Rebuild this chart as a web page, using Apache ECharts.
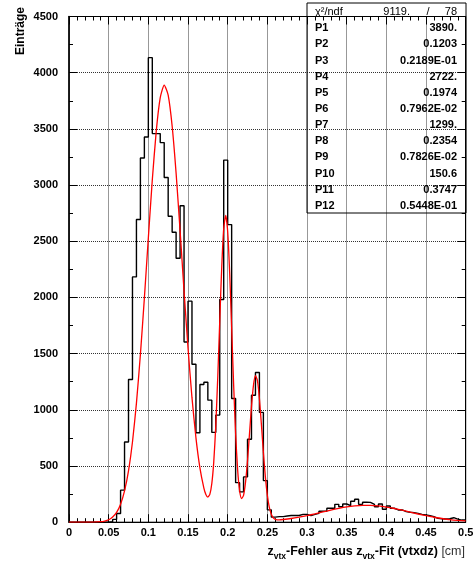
<!DOCTYPE html>
<html><head><meta charset="utf-8">
<script src="https://cdn.jsdelivr.net/npm/echarts@6/dist/echarts.min.js"></script>
<style>html,body{margin:0;padding:0;background:#fff}#c{width:474px;height:565px}</style>
</head><body><div id="c"></div>
<script>
// ---- data ----
const binStart = 0;
const binWidth = 0.005;
const counts = [
  0, 0, 0, 0, 0, 0, 0, 0, 0, 0,
  5, 25, 77, 285, 714, 1270, 2183, 2693, 3241, 3428,
  4134, 3458, 3458, 3378, 3067, 2722, 2580, 2349, 2816, 1604,
  1967, 1405, 796, 1225, 1246, 1086, 799, 953, 1982, 3222,
  2648, 1101, 352, 270, 403, 738, 1130, 1332, 977, 370,
  110, 45, 50, 50, 55, 60, 60, 60, 70, 70,
  58, 70, 79, 97, 97, 124, 124, 159, 138, 162,
  147, 186, 204, 159, 177, 176, 159, 138, 162, 115,
  144, 124, 109, 109, 94, 88, 85, 79, 70, 64,
  58, 49, 34, 31, 28, 31, 40, 28, 19, 19
];
const fitX = [0, 0.01, 0.02, 0.03, 0.04, 0.045, 0.05, 0.055, 0.06, 0.065,
  0.07, 0.075, 0.08, 0.085, 0.09, 0.095, 0.1, 0.105, 0.11, 0.115,
  0.12, 0.125, 0.13, 0.135, 0.14, 0.145, 0.15, 0.155, 0.16, 0.165,
  0.17, 0.1725, 0.175, 0.1775, 0.18, 0.1825, 0.185, 0.1875, 0.19, 0.1925,
  0.195, 0.1975, 0.2, 0.2025, 0.205, 0.2075, 0.21, 0.2125, 0.215, 0.2175,
  0.22, 0.2225, 0.225, 0.2275, 0.23, 0.2325, 0.235, 0.2375, 0.24, 0.2425,
  0.245, 0.2475, 0.25, 0.2525, 0.255, 0.2575, 0.26, 0.265, 0.27, 0.28,
  0.29, 0.3, 0.31, 0.32, 0.33, 0.34, 0.35, 0.36, 0.37, 0.38,
  0.39, 0.4, 0.41, 0.42, 0.43, 0.44, 0.45, 0.46, 0.47, 0.48,
  0.49, 0.5];
const fitY = [0, 0, 0.1, 0.8, 4.6, 10.5, 22, 46, 87, 160,
  278, 457, 714, 1060, 1493, 1994, 2530, 3047, 3482, 3778,
  3890, 3801, 3526, 3105, 2595, 2058, 1550, 1108, 751, 484,
  303, 247, 224, 248, 344, 541, 858, 1292, 1791, 2269,
  2613, 2730, 2587, 2221, 1730, 1223, 787, 471, 282, 210,
  239, 356, 547, 787, 1029, 1218, 1303, 1259, 1100, 869,
  621, 403, 239, 132, 70, 39, 26, 21, 24, 33,
  45, 59, 74, 91, 108, 123, 136, 145, 150, 150,
  145, 135, 122, 107, 90, 73, 58, 44, 33, 23,
  16, 11];
const statNames = ['P1','P2','P3','P4','P5','P6','P7','P8','P9','P10','P11','P12'];
const statValues = ['3890.','0.1203','0.2189E-01','2722.','0.1974','0.7962E-02','1299.','0.2354','0.7826E-02','150.6','0.3747','0.5448E-01'];
const chi2 = '9119.';
const ndf = '78';

// ---- build ----
const FONT = 'Liberation Sans, Arial, Helvetica, sans-serif';
const histData = counts.map((c, i) => [binStart + i * binWidth, c]);
histData.push([binStart + counts.length * binWidth, counts[counts.length - 1]]);
const fitData = fitX.map((x, i) => [x, fitY[i]]);

const chart = echarts.init(document.getElementById('c'), null, {renderer: 'canvas'});

const mkGrid = () => ({show: true, lineStyle: {color: '#333', type: 'dotted', width: 1, opacity: 1}});
const tickStyle = {color: '#000', width: 1};

const graphics = [];
// stats box
const boxX = 307, boxY = 3, boxW = 159, boxH = 210;
graphics.push({type: 'rect', shape: {x: boxX, y: boxY, width: boxW, height: boxH},
  style: {fill: 'none', stroke: '#000', lineWidth: 1}, z: 100});
const rowH = boxH / 13;
graphics.push({type: 'text', x: 315, y: boxY + rowH * 0.5 + 1, z: 101,
  style: {text: 'χ²/ndf', fontSize: 11, fontFamily: FONT, fill: '#000', textVerticalAlign: 'middle', textAlign: 'left'}});
graphics.push({type: 'text', x: 410, y: boxY + rowH * 0.5 + 1, z: 101,
  style: {text: chi2, fontSize: 11, fontFamily: FONT, fill: '#000', textVerticalAlign: 'middle', textAlign: 'right'}});
graphics.push({type: 'text', x: 428, y: boxY + rowH * 0.5 + 1, z: 101,
  style: {text: '/', fontSize: 11, fontFamily: FONT, fill: '#000', textVerticalAlign: 'middle', textAlign: 'center'}});
graphics.push({type: 'text', x: 457, y: boxY + rowH * 0.5 + 1, z: 101,
  style: {text: ndf, fontSize: 11, fontFamily: FONT, fill: '#000', textVerticalAlign: 'middle', textAlign: 'right'}});
statNames.forEach((n, i) => {
  const y = boxY + rowH * (i + 1.5) + 1;
  graphics.push({type: 'text', x: 315, y: y, z: 101,
    style: {text: n, fontSize: 11, fontWeight: 'bold', fontFamily: FONT, fill: '#000', textVerticalAlign: 'middle', textAlign: 'left'}});
  graphics.push({type: 'text', x: 457, y: y, z: 101,
    style: {text: statValues[i], fontSize: 11, fontWeight: 'bold', fontFamily: FONT, fill: '#000', textVerticalAlign: 'middle', textAlign: 'right'}});
});
// y title
graphics.push({type: 'text', x: 21, y: 31, rotation: Math.PI / 2, z: 101,
  style: {text: 'Einträge', fontSize: 12, fontWeight: 'bold', fontFamily: FONT, fill: '#000', textAlign: 'center', textVerticalAlign: 'middle'}});
// x title
graphics.push({type: 'text', x: 465, y: 545, z: 101,
  style: {
    text: '{b|z}{s|vtx}{b|-Fehler aus z}{s|vtx}{b|-Fit (vtxdz) }{n|[cm]}',
    textAlign: 'right', textVerticalAlign: 'top',
    rich: {
      b: {fontSize: 12.5, fontWeight: 'bold', fontFamily: FONT, fill: '#000', lineHeight: 14, verticalAlign: 'top'},
      s: {fontSize: 8.5, fontWeight: 'bold', fontFamily: FONT, fill: '#000', lineHeight: 9, padding: [7, 0, 0, 0], verticalAlign: 'top'},
      n: {fontSize: 12.5, fontWeight: 'normal', fontFamily: FONT, fill: '#333', lineHeight: 14, verticalAlign: 'top'}
    }
  }});

const fmtX = v => String(Math.round(v * 1000) / 1000);
const fmtY = v => (Math.round(v) % 500 === 0 ? String(Math.round(v)) : '');

chart.setOption({
  animation: false,
  backgroundColor: '#fff',
  grid: {left: 69, right: 8.3, top: 16.5, bottom: 42.8, show: true, borderColor: '#000', borderWidth: 1,
    containLabel: false, outerBoundsMode: 'none'},
  xAxis: [
    {type: 'value', min: 0, max: 0.5, interval: 0.05, position: 'bottom',
      axisLine: {show: true, onZero: false, lineStyle: {color: '#000', width: 1}},
      axisTick: {show: true, inside: true, length: 8, lineStyle: tickStyle},
      minorTick: {show: true, splitNumber: 5, length: 4, lineStyle: tickStyle},
      axisLabel: {show: true, margin: 5, fontFamily: FONT, fontWeight: 'bold', fontSize: 11, color: '#000',
        formatter: fmtX, showMinLabel: true, showMaxLabel: true, hideOverlap: false},
      splitLine: mkGrid(), minorSplitLine: {show: false}},
    {type: 'value', min: 0, max: 0.5, interval: 0.05, position: 'top',
      axisLine: {show: true, onZero: false, lineStyle: {color: '#000', width: 1}},
      axisTick: {show: true, inside: true, length: 8, lineStyle: tickStyle},
      minorTick: {show: true, splitNumber: 5, length: 4, lineStyle: tickStyle},
      axisLabel: {show: false}, splitLine: {show: false}}
  ],
  yAxis: [
    {type: 'value', min: 0, max: 4500, interval: 500, position: 'left',
      axisLine: {show: true, onZero: false, lineStyle: {color: '#000', width: 1.5}},
      axisTick: {show: true, inside: true, length: 8, lineStyle: tickStyle},
      minorTick: {show: true, splitNumber: 2, length: 4, lineStyle: tickStyle},
      axisLabel: {show: true, margin: 11, fontFamily: FONT, fontWeight: 'bold', fontSize: 11, color: '#000',
        formatter: fmtY, showMinLabel: true, showMaxLabel: true, hideOverlap: false},
      splitLine: mkGrid()},
    {type: 'value', min: 0, max: 4500, interval: 500, position: 'right',
      axisLine: {show: true, onZero: false, lineStyle: {color: '#000', width: 1}},
      axisTick: {show: true, inside: true, length: 8, lineStyle: tickStyle},
      minorTick: {show: true, splitNumber: 2, length: 4, lineStyle: tickStyle},
      axisLabel: {show: false}, splitLine: {show: false}}
  ],
  series: [
    {type: 'line', name: 'hist', xAxisIndex: 0, yAxisIndex: 0, data: histData, step: 'end',
      symbol: 'none', lineStyle: {color: '#000', width: 1.4}, z: 3, clip: true},
    {type: 'line', name: 'fit', xAxisIndex: 0, yAxisIndex: 0, data: fitData, smooth: 0.2,
      symbol: 'none', lineStyle: {color: '#ff0000', width: 1.3}, z: 4, clip: true}
  ],
  graphic: graphics
});
</script>
</body></html>
